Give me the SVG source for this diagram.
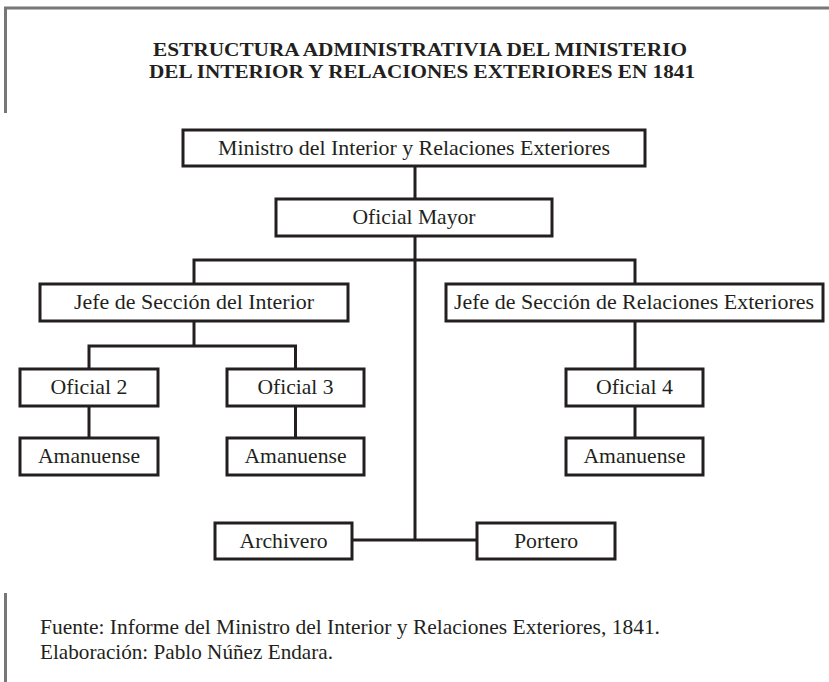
<svg xmlns="http://www.w3.org/2000/svg" width="829" height="682" viewBox="0 0 829 682">
<style>
.frame{stroke:#777;stroke-width:3;fill:none}
.box{fill:#fff;stroke:#231f20;stroke-width:3}
.ln{stroke:#231f20;stroke-width:3;fill:none}
.t{font-family:"Liberation Serif","Times New Roman",serif;font-size:22px;fill:#231f20;text-anchor:middle}
.title{font-family:"Liberation Serif","Times New Roman",serif;font-size:19px;font-weight:bold;fill:#231f20;text-anchor:middle}
.foot{font-family:"Liberation Serif","Times New Roman",serif;font-size:22px;fill:#231f20}
</style>
<rect width="829" height="682" fill="#fff"/>
<g id="frame">
<path class="frame" d="M5.5,113 V8 H829"/>
<path class="frame" d="M5.5,593 V682"/>
</g>
<g id="title">
<text class="title" x="420" y="56" textLength="534" lengthAdjust="spacingAndGlyphs">ESTRUCTURA ADMINISTRATIVIA DEL MINISTERIO</text>
<text class="title" x="422" y="78" textLength="546" lengthAdjust="spacingAndGlyphs">DEL INTERIOR Y RELACIONES EXTERIORES EN 1841</text>
</g>
<g id="connectors">
<path class="ln" d="M415,166 V199"/>
<path class="ln" d="M415,236 V540"/>
<path class="ln" d="M194,284 V260 H635 V284"/>
<path class="ln" d="M194,321 V346"/>
<path class="ln" d="M89,369 V346 H295.5 V369"/>
<path class="ln" d="M89,406 V438"/>
<path class="ln" d="M295.5,406 V438"/>
<path class="ln" d="M635,321 V369"/>
<path class="ln" d="M635,406 V438"/>
<path class="ln" d="M352,540 H477"/>
</g>
<g id="ministro">
<rect class="box" x="183" y="130" width="462" height="36"/>
<text class="t" x="414" y="155" textLength="392" lengthAdjust="spacingAndGlyphs">Ministro del Interior y Relaciones Exteriores</text>
</g>
<g id="oficial-mayor">
<rect class="box" x="276" y="199" width="276" height="37"/>
<text class="t" x="414" y="224" textLength="123" lengthAdjust="spacingAndGlyphs">Oficial Mayor</text>
</g>
<g id="jefe-interior">
<rect class="box" x="40" y="284" width="308" height="37"/>
<text class="t" x="194" y="309" textLength="240" lengthAdjust="spacingAndGlyphs">Jefe de Sección del Interior</text>
</g>
<g id="jefe-relaciones">
<rect class="box" x="446" y="284" width="377" height="37"/>
<text class="t" x="634" y="309" textLength="360" lengthAdjust="spacingAndGlyphs">Jefe de Sección de Relaciones Exteriores</text>
</g>
<g id="oficial-2">
<rect class="box" x="20" y="369" width="138" height="37"/>
<text class="t" x="89" y="394" textLength="77" lengthAdjust="spacingAndGlyphs">Oficial 2</text>
</g>
<g id="oficial-3">
<rect class="box" x="227" y="369" width="137" height="37"/>
<text class="t" x="295.5" y="394" textLength="76" lengthAdjust="spacingAndGlyphs">Oficial 3</text>
</g>
<g id="oficial-4">
<rect class="box" x="566" y="369" width="137" height="37"/>
<text class="t" x="634.5" y="394" textLength="77" lengthAdjust="spacingAndGlyphs">Oficial 4</text>
</g>
<g id="amanuense-1">
<rect class="box" x="20" y="438" width="138" height="37"/>
<text class="t" x="89" y="463" textLength="102" lengthAdjust="spacingAndGlyphs">Amanuense</text>
</g>
<g id="amanuense-2">
<rect class="box" x="227" y="438" width="137" height="37"/>
<text class="t" x="295.5" y="463" textLength="102" lengthAdjust="spacingAndGlyphs">Amanuense</text>
</g>
<g id="amanuense-3">
<rect class="box" x="566" y="438" width="137" height="37"/>
<text class="t" x="634.5" y="463" textLength="102" lengthAdjust="spacingAndGlyphs">Amanuense</text>
</g>
<g id="archivero">
<rect class="box" x="215" y="523" width="137" height="36"/>
<text class="t" x="283.5" y="548" textLength="88" lengthAdjust="spacingAndGlyphs">Archivero</text>
</g>
<g id="portero">
<rect class="box" x="477" y="523" width="138" height="36"/>
<text class="t" x="546" y="548" textLength="64" lengthAdjust="spacingAndGlyphs">Portero</text>
</g>
<g id="footer">
<text class="foot" x="40" y="634" textLength="620" lengthAdjust="spacingAndGlyphs">Fuente: Informe del Ministro del Interior y Relaciones Exteriores, 1841.</text>
<text class="foot" x="40" y="659" textLength="293" lengthAdjust="spacingAndGlyphs">Elaboración: Pablo Núñez Endara.</text>
</g>
</svg>
